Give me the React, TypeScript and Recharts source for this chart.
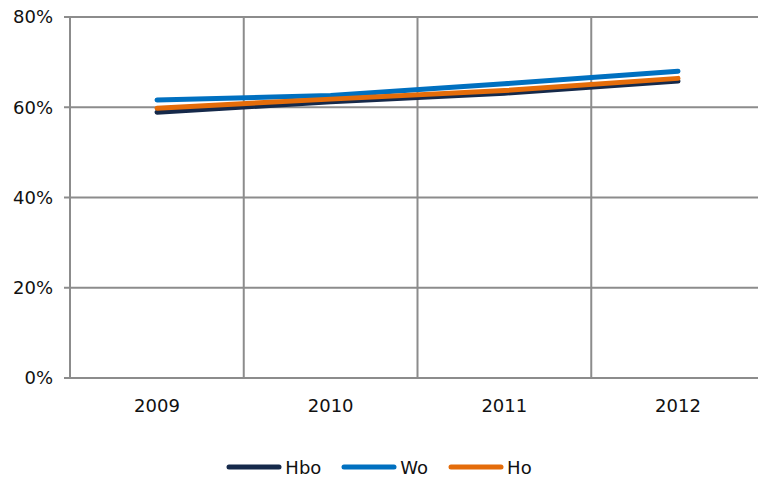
import React from 'react';
import { LineChart, Line, XAxis, YAxis, CartesianGrid } from 'recharts';

// jaren en aandelen (in %)
const years = ['2009', '2010', '2011', '2012'];
const hbo = [58.9, 61.2, 63.1, 65.8];
const wo = [61.6, 62.6, 65.2, 68.0];
const ho = [59.8, 61.8, 63.7, 66.4];
const yTicks = [0, 20, 40, 60, 80];

const series = [
    { key: 'Hbo', color: '#15294a' },
    { key: 'Wo', color: '#0070c0' },
    { key: 'Ho', color: '#e46c0a' },
];

const data = years.map((year, i) => ({ year, Hbo: hbo[i], Wo: wo[i], Ho: ho[i] }));

const GRID = '#8c8c8c';
const FONT = '"DejaVu Sans", Verdana, sans-serif';

export default function App() {
    return (
        <div
            style={{
                position: 'fixed',
                top: 0,
                left: 0,
                width: 758,
                height: 479,
                overflow: 'hidden',
                background: '#fff',
                fontFamily: FONT,
            }}
        >
            <LineChart
                width={770}
                height={420}
                data={data}
                margin={{ top: 17, right: 5, left: 0, bottom: 0 }}
            >
                <CartesianGrid
                    stroke={GRID}
                    strokeWidth={2}
                    verticalCoordinatesGenerator={({ offset }: any) =>
                        [1, 2, 3].map((i) => offset.left + (offset.width * i) / 4)
                    }
                />
                <XAxis
                    dataKey="year"
                    stroke={GRID}
                    strokeWidth={2}
                    tickLine={false}
                    tickMargin={15}
                    height={42}
                    padding={{ left: 87, right: 87 }}
                    tick={{ fill: '#111', fontSize: 18, fontFamily: FONT }}
                />
                <YAxis
                    domain={[0, 80]}
                    ticks={yTicks}
                    width={70}
                    stroke={GRID}
                    strokeWidth={2}
                    tickSize={6}
                    tickMargin={11}
                    tickFormatter={(v) => `${v}%`}
                    tick={{ fill: '#111', fontSize: 18, fontFamily: FONT }}
                />
                {series.map((s) => (
                    <Line
                        key={s.key}
                        dataKey={s.key}
                        stroke={s.color}
                        strokeWidth={5}
                        strokeLinecap="round"
                        dot={false}
                        isAnimationActive={false}
                    />
                ))}
            </LineChart>
            <div
                style={{
                    position: 'absolute',
                    top: 455,
                    left: 0,
                    width: 758,
                    display: 'flex',
                    justifyContent: 'center',
                    gap: 20,
                    fontSize: 18,
                    color: '#111',
                }}
            >
                {series.map((s) => (
                    <div key={s.key} style={{ display: 'flex', alignItems: 'center' }}>
                        <svg width={56} height={24}>
                            <line x1={3} y1={12} x2={53} y2={12} stroke={s.color} strokeWidth={5} strokeLinecap="round" />
                        </svg>
                        <span style={{ marginLeft: 3 }}>{s.key}</span>
                    </div>
                ))}
            </div>
        </div>
    );
}
